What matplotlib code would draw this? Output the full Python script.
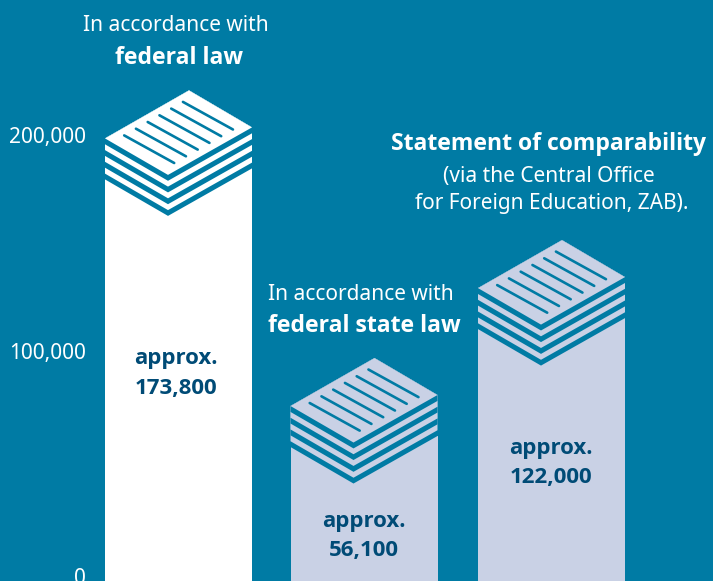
import matplotlib
matplotlib.use('Agg')
import matplotlib.pyplot as plt
from matplotlib.patches import Polygon

plt.rcParams['font.family'] = ['Noto Sans', 'DejaVu Sans']

BLUE = '#007ba4'
LIGHT = '#c9d1e5'
DARK = '#004b76'

# heights (the drawing is not to scale with the printed values)
bar_left = [105, 290.5, 478]
bar_tops = [185000, 61100, 115700]
bar_colors = ['white', LIGHT, LIGHT]
bar_labels = ['approx.\n173,800', 'approx.\n56,100', 'approx.\n122,000']
label_pos = [(176, 90000), (364, 14800), (551, 48600)]
ticks = [0, 100000, 200000]
tick_labels = ['0', '100,000', '200,000']

BAR_W = 147
PX = 0.00216       # pixels per unit on the value axis
ZERO = 568         # pixel row of value 0
H = 581
REG = 15
BOLD = 16.6
BFONT = 'Open Sans'


def sheet_stack(ax, x0, top, color):
    # offsets in pixels, from the bar's top right corner
    def pts(coords):
        return [(x0 + dx, top - dy / PX) for dx, dy in coords]
    L, T, R, B = (0, -30), (84, -78), (147, -41), (63, 6.5)
    depths = [41, 35.2, 29.3, 23.4, 17.5, 11.7, 5.9]
    for i, d in enumerate(depths):
        c = BLUE if i % 2 == 0 else color
        hexa = [L, T, R, (R[0], R[1] + d), (B[0], B[1] + d), (L[0], L[1] + d)]
        ax.add_patch(Polygon(pts(hexa), fc=c, ec='none', zorder=3 + i * 0.1))
    ax.add_patch(Polygon(pts([L, T, R, B]), fc=color, ec='none', zorder=4))
    for k in range(6):
        sx, sy = 19.2 + 11.75 * k, -33 - 6.7 * k
        a, b = pts([(sx, sy), (sx + 50, sy + 27.6)])
        ax.plot([a[0], b[0]], [a[1], b[1]], color=BLUE, lw=1.9,
                solid_capstyle='round', zorder=5)


fig = plt.figure(figsize=(7.13, 5.81), dpi=100, facecolor=BLUE)
ax = fig.add_axes([0, 0, 1, 1])
ax.set_xlim(0, 713)
ax.set_ylim((ZERO - H) / PX, ZERO / PX)
ax.axis('off')

floor = (ZERO - H) / PX
for x0, top, c in zip(bar_left, bar_tops, bar_colors):
    ax.bar(x0, top - floor, width=BAR_W, bottom=floor, align='edge', color=c, zorder=2)
    sheet_stack(ax, x0, top, c)

for (x, y), s in zip(label_pos, bar_labels):
    ax.text(x, y, s, ha='center', va='center', color=DARK, fontsize=16, family=BFONT,
            fontweight='bold', linespacing=1.55, zorder=6)

for t, s in zip(ticks, tick_labels):
    y = t - 800 if t > 0 else -4700
    ax.text(86, y, s, ha='right', va='center', color='white', fontsize=REG)

ax.text(175.5, (ZERO - 25) / PX, 'In accordance with', ha='center', va='center', color='white', fontsize=REG)
ax.text(179, (ZERO - 58) / PX, 'federal law', ha='center', va='center', color='white', fontsize=BOLD, family=BFONT, fontweight='bold')
ax.text(361, (ZERO - 294) / PX, 'In accordance with', ha='center', va='center', color='white', fontsize=REG)
ax.text(364, (ZERO - 326) / PX, 'federal state law', ha='center', va='center', color='white', fontsize=BOLD, family=BFONT, fontweight='bold')
ax.text(549, (ZERO - 144) / PX, 'Statement of comparability', ha='center', va='center', color='white', fontsize=BOLD, family=BFONT, fontweight='bold')
ax.text(549, (ZERO - 176) / PX, '(via the Central Office', ha='center', va='center', color='white', fontsize=REG)
ax.text(552, (ZERO - 203) / PX, 'for Foreign Education, ZAB).', ha='center', va='center', color='white', fontsize=REG)

fig.savefig('out.png', dpi=100, facecolor=BLUE)
